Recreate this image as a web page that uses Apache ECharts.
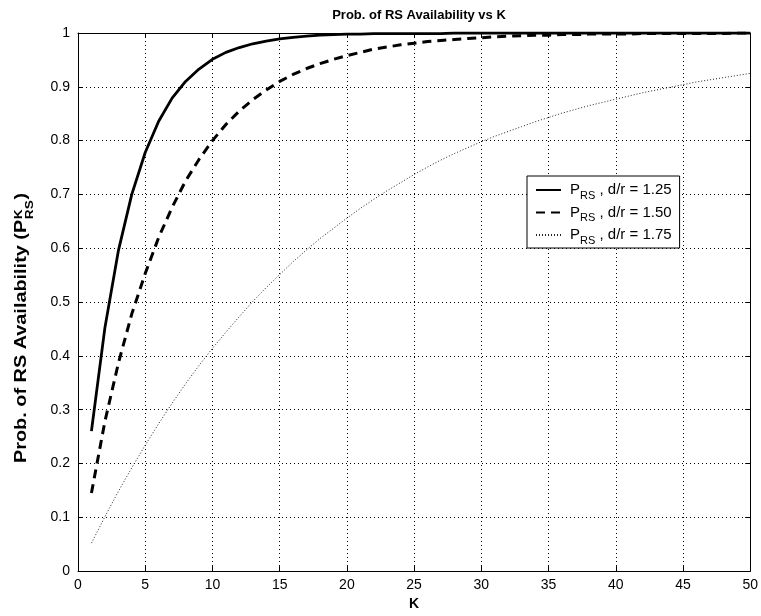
<!DOCTYPE html>
<html>
<head>
<meta charset="utf-8">
<script src="https://cdn.jsdelivr.net/npm/echarts@6/dist/echarts.min.js"></script>
<style>html,body{margin:0;padding:0;background:#fff}#c{width:761px;height:616px}</style>
</head>
<body>
<div id="c"></div>
<script>
var K = [1,2,3,4,5,6,7,8,9,10,11,12,13,14,15,16,17,18,19,20,21,22,23,24,25,26,27,28,29,30,31,32,33,34,35,36,37,38,39,40,41,42,43,44,45,46,47,48,49,50];
var p125 = [0.260,0.452,0.595,0.700,0.778,0.836,0.879,0.910,0.933,0.951,0.964,0.973,0.980,0.985,0.989,0.992,0.994,0.996,0.997,0.998,0.998,0.999,0.999,0.999,0.999,0.999,0.999,1.000,1.000,1.000,1.000,1.000,1.000,1.000,1.000,1.000,1.000,1.000,1.000,1.000,1.000,1.000,1.000,1.000,1.000,1.000,1.000,1.000,1.000,1.000];
var p150 = [0.145,0.278,0.386,0.478,0.553,0.620,0.676,0.725,0.765,0.800,0.830,0.855,0.876,0.894,0.910,0.923,0.934,0.943,0.951,0.958,0.964,0.970,0.974,0.978,0.981,0.984,0.986,0.988,0.990,0.991,0.993,0.994,0.995,0.996,0.996,0.997,0.997,0.998,0.998,0.998,0.998,0.999,0.999,0.999,0.999,0.999,0.999,0.999,1.000,1.000];
var p175 = [0.052,0.101,0.148,0.192,0.234,0.274,0.312,0.348,0.382,0.414,0.444,0.473,0.501,0.527,0.551,0.575,0.597,0.618,0.637,0.656,0.674,0.691,0.707,0.722,0.737,0.751,0.764,0.776,0.787,0.798,0.808,0.817,0.826,0.835,0.843,0.851,0.858,0.865,0.871,0.877,0.883,0.889,0.894,0.899,0.904,0.909,0.913,0.917,0.921,0.925];
var seriesNames = ['1.25','1.50','1.75'];
var xTicks = {min:0, max:50, interval:5};
var yTicks = {min:0, max:1, interval:0.1};

function pairs(v){ return K.map(function(k,i){ return [k, v[i]]; }); }

var chart = echarts.init(document.getElementById('c'), null, {renderer:'canvas'});
var FONT = '"Liberation Sans", Arial, Helvetica, sans-serif';

// y-axis title with stacked super/subscript (reference text is stretched along its length)
var ctx = document.createElement('canvas').getContext('2d');
function tw(t, f){ ctx.font = f; return ctx.measureText(t).width; }
var mainF = 'bold 16px ' + FONT, smallF = 'bold 11px ' + FONT;
var mainT = 'Prob. of RS Availability (P';
var wMain = tw(mainT, mainF), wK = tw('K', smallF), wRS = tw('RS', smallF), wP = tw(')', mainF);
var total = wMain + Math.max(wK, wRS) + 1 + wP;
var stretch = 270 / total;
var x0 = -total/2;
var ylab = {
  type:'group', x:22, y:328, rotation: Math.PI/2, scaleX: stretch, scaleY: 1,
  children:[
    {type:'text', x:x0, y:0, style:{text:mainT, font:mainF, fill:'#000', textAlign:'left', textVerticalAlign:'middle'}},
    {type:'text', x:x0+wMain+0.5, y:-3.5, style:{text:'K', font:smallF, fill:'#000', textAlign:'left', textVerticalAlign:'middle'}},
    {type:'text', x:x0+wMain+0.5, y:8, style:{text:'RS', font:smallF, fill:'#000', textAlign:'left', textVerticalAlign:'middle'}},
    {type:'text', x:x0+wMain+Math.max(wK,wRS)+1, y:0, style:{text:')', font:mainF, fill:'#000', textAlign:'left', textVerticalAlign:'middle'}}
  ]
};

var axisCommon = {
  axisLine:{show:true, onZero:false, lineStyle:{color:'#000', width:1}},
  axisTick:{show:true, inside:true, length:5, lineStyle:{color:'#000'}},
};

var legendNames = seriesNames.map(function(s){ return 'P_RS , d/r = ' + s; });

chart.setOption({
  animation:false,
  backgroundColor:'#fff',
  title:{text:'Prob. of RS Availability vs K', left:414, textAlign:'center', top:4,
    textStyle:{fontFamily:FONT, fontWeight:'bold', fontSize:13, color:'#000'}},
  grid:{left:78, right:10, top:33, bottom:43, containLabel:false},
  legend:{
    orient:'vertical', left:527, top:176,
    backgroundColor:'#fff', borderColor:'#000', borderWidth:1, borderRadius:0,
    padding:[3,8,2,8], itemGap:0.5, itemWidth:25, itemHeight:14,
    itemStyle:{opacity:0},
    data:legendNames,
    formatter:function(n){ var s=n.split('d/r = ')[1]; return '{p|P}{sub|RS}{t| , d/r = '+s+'}'; },
    textStyle:{fontFamily:FONT, color:'#000', fontSize:15,
      rich:{
        p:{fontFamily:FONT, fontSize:15, color:'#000', lineHeight:22, padding:[0,0,0,4]},
        sub:{fontFamily:FONT, fontSize:11, color:'#000', lineHeight:11, verticalAlign:'top', padding:[11,0,0,0]},
        t:{fontFamily:FONT, fontSize:15, color:'#000', lineHeight:22}
      }}
  },
  xAxis:[
    Object.assign({type:'value', position:'bottom', min:xTicks.min, max:xTicks.max, interval:xTicks.interval,
      name:'K', nameLocation:'middle', nameGap:23,
      nameTextStyle:{fontFamily:FONT, fontWeight:'bold', fontSize:14, color:'#000'},
      axisLabel:{fontFamily:FONT, fontSize:14, color:'#000', margin:7},
      splitLine:{show:true, lineStyle:{color:'#000', width:1, type:[1,3]}}}, axisCommon),
    Object.assign({type:'value', position:'top', min:xTicks.min, max:xTicks.max, interval:xTicks.interval,
      axisLabel:{show:false}, splitLine:{show:false}}, axisCommon)
  ],
  yAxis:[
    Object.assign({type:'value', position:'left', min:yTicks.min, max:yTicks.max, interval:yTicks.interval,
      axisLabel:{fontFamily:FONT, fontSize:14, color:'#000', margin:8},
      splitLine:{show:true, lineStyle:{color:'#000', width:1, type:[1,3]}}}, axisCommon),
    Object.assign({type:'value', position:'right', min:yTicks.min, max:yTicks.max, interval:yTicks.interval,
      axisLabel:{show:false}, splitLine:{show:false}}, axisCommon)
  ],
  graphic:[ylab],
  series:[
    {name:legendNames[0], type:'line', data:pairs(p125), symbol:'none', smooth:false,
      lineStyle:{color:'#000', width:2.8, type:'solid'}, itemStyle:{color:'#000'}},
    {name:legendNames[1], type:'line', data:pairs(p150), symbol:'none', smooth:false,
      lineStyle:{color:'#000', width:3, type:[9,6]}, itemStyle:{color:'#000'}},
    {name:legendNames[2], type:'line', data:pairs(p175), symbol:'none', smooth:false,
      lineStyle:{color:'#222', width:1, type:[1,2]}, itemStyle:{color:'#222'}}
  ]
});
</script>
</body>
</html>
